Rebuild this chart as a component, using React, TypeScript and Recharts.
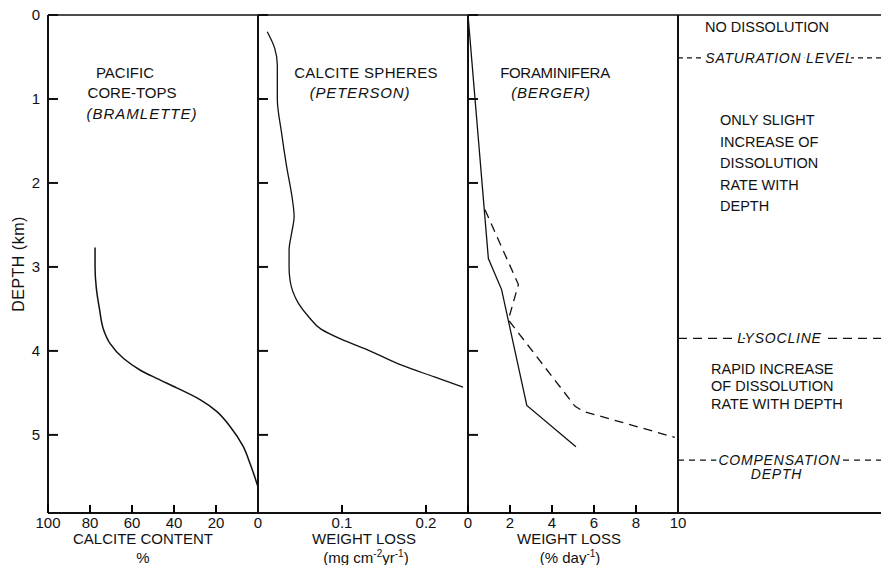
import React from "react";
import { LineChart, Line, XAxis, YAxis } from "recharts";

const FONT = "'Liberation Sans', Arial, Helvetica, sans-serif";
const INK = "#111";

// depth axis (km), shared by all panels
const depthTicks = [0, 1, 2, 3, 4, 5];
const depthMax = 5.93;

// Pacific core-tops (Bramlette) - calcite content, %
const coreTopDepth = [2.77, 3.0, 3.25, 3.5, 3.75, 3.91, 4.09, 4.23, 4.33, 4.44, 4.58, 4.72, 4.9, 5.14, 5.34, 5.48, 5.62];
const coreTopCalcite = [77.6, 77.6, 77, 75.5, 73.5, 70.5, 64, 56, 48, 38.7, 27.6, 19.7, 13.3, 7, 3.8, 1.8, 0];

// calcite spheres (Peterson) - weight loss, mg cm-2 yr-1
const sphereDepth = [0.2, 0.4, 0.6, 1.0, 1.4, 1.8, 2.2, 2.4, 2.6, 2.8, 3.0, 3.15, 3.43, 3.59, 3.74, 3.86, 3.99, 4.17, 4.31, 4.43];
const sphereLoss = [0.011, 0.02, 0.023, 0.023, 0.028, 0.034, 0.041, 0.043, 0.04, 0.037, 0.037, 0.038, 0.048, 0.06, 0.075, 0.099, 0.131, 0.171, 0.21, 0.244];

// foraminifera (Berger) - weight loss, % per day
const foramSolidDepth = [0, 2.9, 3.27, 4.65, 5.14];
const foramSolidLoss = [0, 0.97, 1.6, 2.8, 5.14];
const foramDashDepth = [2.32, 3.21, 3.63, 4.66, 4.72, 5.03];
const foramDashLoss = [0.81, 2.4, 1.92, 5.1, 5.5, 9.85];

const calciteTicks = [0, 20, 40, 60, 80, 100];
const sphereTicks = [0.1, 0.2];
const foramTicks = [0, 2, 4, 6, 8, 10];

// dissolution levels in the water column (km), drawn across the last panel
const levelDepth = [0.51, 3.85, 5.3];
const levelName = [["SATURATION LEVEL"], ["LYSOCLINE"], ["COMPENSATION", "DEPTH"]];
const levelDash = ["5 4", "9 6", "6 5"];
const levelSpan = [0, 0.5, 1]; // left edge, label spot, right edge

const rows = (depths: number[], values: number[]) =>
  depths.map((depth, i) => ({ depth, value: values[i] }));

const coreTops = rows(coreTopDepth, coreTopCalcite);
const spheres = rows(sphereDepth, sphereLoss);
const foramSolid = rows(foramSolidDepth, foramSolidLoss);
const foramDash = rows(foramDashDepth, foramDashLoss);
const levelRows = levelDepth.map((depth) => levelSpan.map((value) => ({ depth, value })));

const axisStroke = { stroke: INK, strokeWidth: 2 };
const margin = { top: 14, right: 10, bottom: 22, left: 0 };

// depth ticks point into the panel, labels sit outside
function DepthTick(props: any) {
  const { x, y, payload, showLabel } = props;
  return (
    <g>
      <line x1={x} y1={y} x2={x + 10} y2={y} stroke={INK} strokeWidth={2} />
      {showLabel && (
        <text x={x - 8} y={y + 5} textAnchor="end" fontFamily={FONT} fontSize={15} fill={INK}>
          {payload.value}
        </text>
      )}
    </g>
  );
}

// value ticks: short mark up into the panel, label below the frame
function ValueTick(props: any) {
  const { payload } = props;
  const x = Number(props.x);
  const y = Number(props.y);
  return (
    <g>
      <rect x={x - 1} y={y - 8} width={2} height={8} fill="#000" />
      <text x={x} y={y + 15} textAnchor="middle" fontFamily={FONT} fontSize={15} fill={INK}>
        {payload.value}
      </text>
    </g>
  );
}

function LevelLabel(props: any) {
  const { lines, index, value } = props;
  const mid = index !== undefined ? index === 1 : value === levelSpan[1];
  if (!mid) return null;
  const cx = props.viewBox?.x ?? props.x;
  const cy = props.viewBox?.y ?? props.y;
  return (
    <text
      x={cx}
      y={cy}
      textAnchor="middle"
      fontFamily={FONT}
      fontStyle="italic"
      fontSize={14}
      letterSpacing={0.8}
      fill={INK}
      stroke="#fff"
      strokeWidth={6}
      paintOrder="stroke"
    >
      {lines.map((t: string, i: number) => (
        <tspan key={t} x={i === 0 ? cx : cx - 3} dy={i === 0 ? 5 : 13.5}>
          {t}
        </tspan>
      ))}
    </text>
  );
}

const depthAxis = (showLabel: boolean, width: number) => (
  <YAxis
    type="number"
    dataKey="depth"
    domain={[0, depthMax]}
    ticks={depthTicks}
    interval={0}
    width={width}
    axisLine={axisStroke}
    tickLine={false}
    tickSize={0}
    tickMargin={0}
    tick={<DepthTick showLabel={showLabel} />}
  />
);

const valueAxis = (domain: number[], ticks: number[], reversed = false) => (
  <XAxis
    type="number"
    domain={domain}
    ticks={ticks}
    reversed={reversed}
    interval={0}
    height={30}
    axisLine={axisStroke}
    tickLine={false}
    tickSize={0}
    tickMargin={0}
    tick={<ValueTick />}
  />
);

const topBorder = (
  <XAxis
    xAxisId="top"
    orientation="top"
    type="number"
    domain={[0, 1]}
    height={1}
    axisLine={{ stroke: INK, strokeWidth: 1.5 }}
    tickLine={false}
    tick={false}
  />
);

const txt = (
  left: number,
  top: number,
  extra: React.CSSProperties = {}
): React.CSSProperties => ({
  position: "absolute",
  left,
  top,
  fontFamily: FONT,
  fontSize: 15,
  lineHeight: "15px",
  color: INK,
  whiteSpace: "nowrap",
  ...extra,
});

const centered = { transform: "translateX(-50%)" };
const sup: React.CSSProperties = { fontSize: 10, position: "relative", top: -6 };

export default function App() {
  return (
    <div
      style={{
        position: "absolute",
        left: 0,
        top: 0,
        width: 881,
        height: 565,
        background: "#fff",
        overflow: "hidden",
      }}
    >
      {/* panel 1: calcite content */}
      <div style={{ position: "absolute", left: 0, top: 0 }}>
        <LineChart layout="vertical" width={268} height={565} data={coreTops} margin={margin}>
          {depthAxis(true, 48)}
          {valueAxis([0, 100], calciteTicks, true)}
          {topBorder}
          <Line
            dataKey="value"
            type="monotone"
            stroke={INK}
            strokeWidth={1.5}
            dot={false}
            activeDot={false}
            isAnimationActive={false}
          />
        </LineChart>
      </div>

      {/* panel 2: calcite spheres */}
      <div style={{ position: "absolute", left: 248, top: 0 }}>
        <LineChart layout="vertical" width={230} height={565} data={spheres} margin={margin}>
          {depthAxis(false, 10)}
          {valueAxis([0, 0.25], sphereTicks)}
          {topBorder}
          <Line
            dataKey="value"
            type="monotone"
            stroke={INK}
            strokeWidth={1.3}
            dot={false}
            activeDot={false}
            isAnimationActive={false}
          />
        </LineChart>
      </div>

      {/* panel 3: foraminifera */}
      <div style={{ position: "absolute", left: 458, top: 0 }}>
        <LineChart layout="vertical" width={230} height={565} data={foramSolid} margin={margin}>
          {depthAxis(false, 10)}
          {valueAxis([0, 10], foramTicks)}
          {topBorder}
          <Line
            data={foramSolid}
            dataKey="value"
            type="linear"
            stroke={INK}
            strokeWidth={1.3}
            dot={false}
            activeDot={false}
            isAnimationActive={false}
          />
          <Line
            data={foramDash}
            dataKey="value"
            type="linear"
            stroke={INK}
            strokeWidth={1.3}
            strokeDasharray="9 6"
            dot={false}
            activeDot={false}
            isAnimationActive={false}
          />
        </LineChart>
      </div>

      {/* panel 4: dissolution levels */}
      <div style={{ position: "absolute", left: 668, top: 0 }}>
        <LineChart
          layout="vertical"
          width={213}
          height={565}
          data={levelRows[0]}
          margin={{ ...margin, right: 0 }}
        >
          <YAxis
            type="number"
            dataKey="depth"
            domain={[0, depthMax]}
            width={10}
            axisLine={axisStroke}
            tickLine={false}
            tick={false}
          />
          <XAxis
            type="number"
            domain={[0, 1]}
            height={30}
            axisLine={axisStroke}
            tickLine={false}
            tick={false}
          />
          {topBorder}
          {levelRows.map((level, i) => (
            <Line
              key={levelName[i][0]}
              data={level}
              dataKey="value"
              type="linear"
              stroke={INK}
              strokeWidth={1.3}
              strokeDasharray={levelDash[i]}
              dot={false}
              activeDot={false}
              isAnimationActive={false}
              label={<LevelLabel lines={levelName[i]} />}
            />
          ))}
        </LineChart>
      </div>

      {/* panel titles */}
      <div style={txt(125, 65, centered)}>PACIFIC</div>
      <div style={txt(132, 85, centered)}>CORE-TOPS</div>
      <div style={txt(142, 106, { ...centered, fontStyle: "italic", letterSpacing: 1 })}>(BRAMLETTE)</div>
      <div style={txt(366, 65, { ...centered, letterSpacing: 0.3 })}>CALCITE SPHERES</div>
      <div style={txt(360, 85, { ...centered, fontStyle: "italic", letterSpacing: 0.8 })}>(PETERSON)</div>
      <div style={txt(555, 65, { ...centered, letterSpacing: -0.3 })}>FORAMINIFERA</div>
      <div style={txt(551, 85, { ...centered, fontStyle: "italic", letterSpacing: 0.8 })}>(BERGER)</div>

      {/* zone descriptions */}
      <div style={txt(705, 20, { fontSize: 14.5 })}>NO DISSOLUTION</div>
      <div style={txt(720, 110, { fontSize: 14.5, lineHeight: "21.5px" })}>
        ONLY SLIGHT
        <br />
        INCREASE OF
        <br />
        DISSOLUTION
        <br />
        RATE WITH
        <br />
        DEPTH
      </div>
      <div style={txt(711, 361, { fontSize: 14.5, lineHeight: "17.3px" })}>
        RAPID INCREASE
        <br />
        OF DISSOLUTION
        <br />
        RATE WITH DEPTH
      </div>

      {/* axis titles */}
      <div
        style={txt(18, 264, {
          fontSize: 16,
          letterSpacing: 0.5,
          transform: "translate(-50%, -50%) rotate(-90deg)",
        })}
      >
        DEPTH (km)
      </div>
      <div style={txt(143, 531, centered)}>CALCITE CONTENT</div>
      <div style={txt(143, 550, centered)}>%</div>
      <div style={txt(364, 531, centered)}>WEIGHT LOSS</div>
      <div style={txt(366, 550, centered)}>
        (mg cm<span style={sup}>-2</span>yr<span style={sup}>-1</span>)
      </div>
      <div style={txt(569, 531, centered)}>WEIGHT LOSS</div>
      <div style={txt(570, 550, centered)}>
        (% day<span style={sup}>-1</span>)
      </div>
    </div>
  );
}
